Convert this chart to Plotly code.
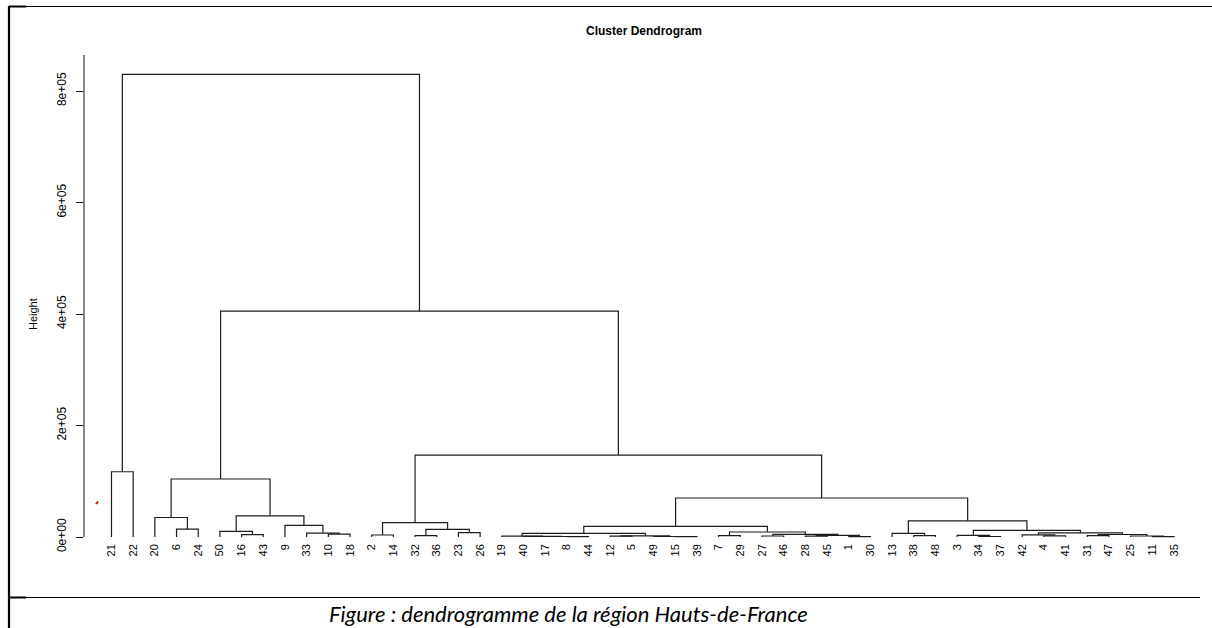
import plotly.graph_objects as go

# Observation numbers in the order they appear along the x axis
leaf_order = [21, 22, 20, 6, 24, 50, 16, 43, 9, 33, 10, 18, 2, 14, 32, 36, 23, 26,
              19, 40, 17, 8, 44, 12, 5, 49, 15, 39, 7, 29, 27, 46, 28, 45, 1, 30,
              13, 38, 48, 3, 34, 37, 42, 4, 41, 31, 47, 25, 11, 35]

# Merge table (hclust convention): negative = observation, positive = earlier merge row (1-based)
merge_left = [-6, -20, -16, -50, -10, -33, -9, 4, 2, -21,
              -2, -32, -23, 12, 11, -8, -17, -40, -19, -12,
              -15, -49, 20, 19, -7, -27, -28, -1, 27, 26,
              25, 24, -38, -13, -34, -3, -4, -42, -31, -11,
              -25, 39, 38, 36, 34, 32, 15, 9, 10]
merge_right = [-24, 1, -43, 3, -18, 5, 6, 7, 8, -22,
               -14, -36, -26, 13, 14, -44, 16, 17, 18, -5,
               -39, 21, 22, 23, -29, -46, -45, -30, 28, 29,
               30, 31, -48, 33, -37, 35, -41, 37, -47, -35,
               40, 41, 42, 43, 44, 45, 46, 47, 48]
merge_height = [14000, 35000, 4200, 10000, 5000, 7000, 21000, 38000, 104000, 117000,
                3600, 2300, 7700, 13500, 25700, 600, 900, 1200, 1600, 1500,
                500, 900, 2000, 6500, 2300, 1800, 1400, 700, 3000, 4600,
                9000, 19000, 2300, 6600, 900, 3000, 2000, 3800, 2500, 800,
                1800, 4500, 7500, 12000, 29000, 70000, 147000, 405000, 830000]

y_tick_vals = [0, 200000, 400000, 600000, 800000]
y_tick_text = ["0e+00", "2e+05", "4e+05", "6e+05", "8e+05"]

# Build the dendrogram segments
leaf_pos = {obs: i + 1 for i, obs in enumerate(leaf_order)}
node_x = []
xs, ys = [], []


def child_xy(c):
    if c < 0:
        return leaf_pos[-c], 0.0
    return node_x[c - 1], merge_height[c - 1]


for left, right, h in zip(merge_left, merge_right, merge_height):
    xl, yl = child_xy(left)
    xr, yr = child_xy(right)
    xs += [xl, xl, xr, xr, None]
    ys += [yl, h, h, yr, None]
    node_x.append((xl + xr) / 2)

# Page geometry (pixels)
W, H = 1212, 628
L, R, T, B = 84, 12, 55, 87
PW, PH = W - L - R, H - T - B


def fx(px):
    return (px - L) / PW


def fy(py):
    return (H - B - py) / PH


y_per_px = 800000 / 446.0
y_lo = -(541 - 537) * y_per_px
y_hi = (537 - 55) * y_per_px

fig = go.Figure()
fig.add_trace(go.Scatter(
    x=xs, y=ys, mode="lines",
    line=dict(color="#1c1c1c", width=1.2),
    hoverinfo="skip", showlegend=False,
))

rfont = "Liberation Sans, Arial, sans-serif"

fig.update_layout(
    width=W, height=H,
    margin=dict(l=L, r=R, t=T, b=B, pad=0),
    paper_bgcolor="white", plot_bgcolor="white",
    showlegend=False,
    xaxis=dict(
        range=[-0.268, 51.2],
        tickmode="array",
        tickvals=list(range(1, len(leaf_order) + 1)),
        ticktext=[str(v) for v in leaf_order],
        tickangle=-90,
        tickfont=dict(family=rfont, size=11, color="black"),
        ticks="", showgrid=False, zeroline=False, showline=False,
    ),
    yaxis=dict(
        range=[y_lo, y_hi],
        tickmode="array",
        tickvals=y_tick_vals,
        ticktext=y_tick_text,
        tickangle=-90,
        tickfont=dict(family=rfont, size=12, color="black"),
        ticks="outside", ticklen=7, tickwidth=1, tickcolor="#111",
        ticklabelstandoff=5,
        showgrid=False, zeroline=False, showline=False,
    ),
)

shapes = [
    # y axis line
    dict(type="line", xref="paper", yref="y", x0=0, x1=0, y0=0, y1=y_hi,
         line=dict(color="#111", width=1)),
    # page frame
    dict(type="line", xref="paper", yref="paper", x0=fx(9), x1=fx(9), y0=fy(6), y1=fy(628),
         line=dict(color="black", width=2.2)),
    dict(type="line", xref="paper", yref="paper", x0=fx(9), x1=fx(1212), y0=fy(6.5), y1=fy(6.5),
         line=dict(color="black", width=1)),
    dict(type="line", xref="paper", yref="paper", x0=fx(9), x1=fx(26), y0=fy(6.5), y1=fy(6.5),
         line=dict(color="black", width=2)),
    dict(type="line", xref="paper", yref="paper", x0=fx(9), x1=fx(1200), y0=fy(597.5), y1=fy(597.5),
         line=dict(color="black", width=1)),
    dict(type="line", xref="paper", yref="paper", x0=fx(9), x1=fx(26), y0=fy(597.5), y1=fy(597.5),
         line=dict(color="black", width=2)),
    # small red pen mark
    dict(type="line", xref="paper", yref="paper", x0=fx(96), x1=fx(98), y0=fy(504), y1=fy(501.5),
         line=dict(color="#e00000", width=2)),
]
fig.update_layout(shapes=shapes)

fig.add_annotation(text="<b>Cluster Dendrogram</b>", xref="paper", yref="paper",
                   x=fx(644), y=fy(31), xanchor="center", yanchor="middle", showarrow=False,
                   font=dict(family=rfont, size=12, color="black"))
fig.add_annotation(text="Height", xref="paper", yref="paper", textangle=-90,
                   x=fx(33), y=fy(314), xanchor="center", yanchor="middle", showarrow=False,
                   font=dict(family=rfont, size=11, color="black"))
fig.add_annotation(text="<i>Figure : dendrogramme de la région Hauts-de-France</i>",
                   xref="paper", yref="paper", x=fx(568), y=fy(613),
                   xanchor="center", yanchor="middle", showarrow=False,
                   font=dict(family="Lato, Open Sans, sans-serif", size=22, color="black"))

fig.write_html("out.html")
